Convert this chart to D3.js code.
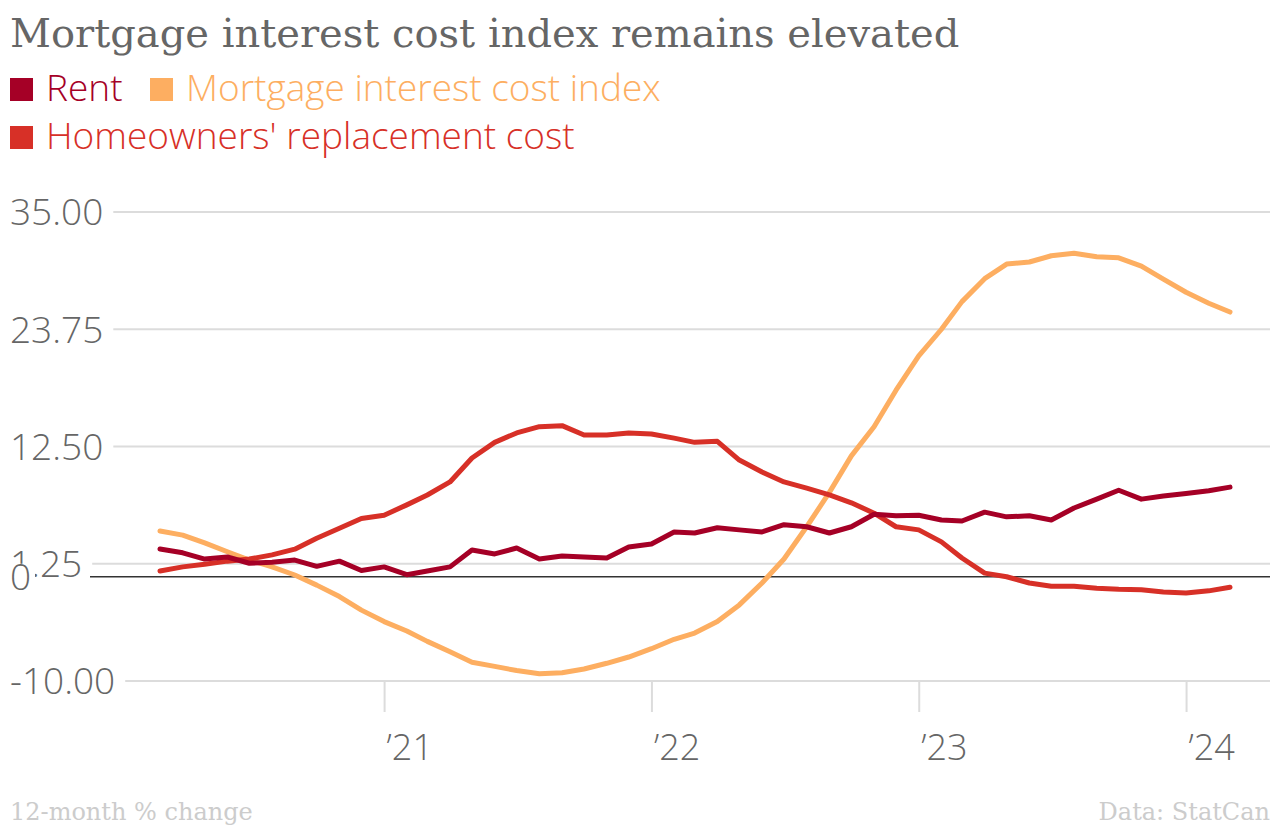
<!DOCTYPE html>
<html>
<head>
<meta charset="utf-8">
<script src="https://cdn.jsdelivr.net/npm/d3@7"></script>
<style>
  html, body { margin: 0; padding: 0; background: #fff; }
  svg { display: block; }
</style>
</head>
<body>
<svg id="chart" width="1280" height="826"></svg>
<script>
// ---- data (12-month % change, monthly Mar 2020 – Mar 2024) ----
const startMonth = "2020-03";
const endMonth = "2024-03";
const seriesNames = ["Rent", "Mortgage interest cost index", "Homeowners' replacement cost"];
const seriesColors = ["#a50026", "#fdae61", "#d73027"];
const rent = [2.67,2.3,1.7,1.9,1.3,1.4,1.6,1.0,1.5,0.6,0.95,0.2,0.55,0.95,2.57,2.19,2.76,1.7,2.0,1.9,1.8,2.86,3.15,4.3,4.2,4.7,4.5,4.3,5.0,4.8,4.2,4.8,6.0,5.85,5.9,5.45,5.35,6.2,5.75,5.85,5.45,6.6,7.45,8.3,7.45,7.75,8.0,8.25,8.6];
const mortgage = [4.4,4.0,3.25,2.4,1.6,0.95,0.17,-0.8,-1.9,-3.2,-4.3,-5.2,-6.2,-7.2,-8.2,-8.6,-9.0,-9.3,-9.2,-8.85,-8.3,-7.7,-6.9,-6.0,-5.4,-4.3,-2.7,-0.6,1.7,4.8,8.1,11.6,14.4,17.9,21.2,23.75,26.4,28.6,30.0,30.2,30.8,31.05,30.7,30.6,29.8,28.55,27.3,26.25,25.4];
const homeowners = [0.55,0.95,1.2,1.5,1.7,2.1,2.65,3.7,4.65,5.6,5.9,6.9,7.85,9.1,11.4,12.9,13.8,14.4,14.5,13.6,13.6,13.8,13.7,13.3,12.9,13.0,11.2,10.05,9.1,8.5,7.85,7.1,6.1,4.8,4.5,3.35,1.8,0.35,0.0,-0.6,-0.9,-0.9,-1.1,-1.2,-1.25,-1.45,-1.55,-1.35,-1.0];
const yTicks = [35, 23.75, 12.5, 1.25, -10];
const yTickLabels = ["35.00", "23.75", "12.50", "1.25", "-10.00"];
const xTickDates = ["2021-01", "2022-01", "2023-01", "2024-01"];
const xTickLabels = ["\u201921", "\u201922", "\u201923", "\u201924"];
const titleText = "Mortgage interest cost index remains elevated";
const noteText = "12-month % change";
const sourceText = "Data: StatCan";

// ---- setup ----
const parseM = d3.timeParse("%Y-%m");
const start = parseM(startMonth), end = parseM(endMonth);
const months = d3.timeMonth.range(start, d3.timeMonth.offset(end, 1));
const svg = d3.select("#chart");

const x = d3.scaleTime().domain([start, end]).range([160, 1230]);
const y = d3.scaleLinear().domain([-10, 35]).range([681, 212]);

const gray = "#666";
const sans = "'Open Sans', sans-serif";
const serif = "'DejaVu Serif', serif";

// title
svg.append("text").attr("x", 10).attr("y", 47)
  .attr("font-family", serif).attr("font-size", 40).attr("fill", gray)
  .text(titleText);

// legend
const legendPos = [[10, 101], [150, 101], [10, 149]];
seriesNames.forEach((n, i) => {
  const g = svg.append("g").attr("transform", `translate(${legendPos[i][0]},${legendPos[i][1]})`);
  g.append("rect").attr("x", 0).attr("y", -23).attr("width", 23).attr("height", 23).attr("fill", seriesColors[i]);
  g.append("text").attr("x", 36).attr("y", 0)
    .attr("font-family", sans).attr("font-weight", 300).attr("font-size", 37)
    .attr("fill", seriesColors[i]).text(n);
});

// y grid + labels
const yg = svg.append("g");
yTicks.forEach((t, i) => {
  const lbl = yg.append("text").attr("x", 10).attr("y", y(t)).attr("dy", "0.36em")
    .attr("font-family", sans).attr("font-weight", 300).attr("font-size", 37)
    .attr("fill", gray).text(yTickLabels[i]);
  const w = lbl.node().getComputedTextLength();
  yg.insert("line", "text").attr("x1", 10 + w + 10).attr("x2", 1270)
    .attr("y1", y(t)).attr("y2", y(t)).attr("stroke", "#dcdcdc").attr("stroke-width", 2);
});

// x axis ticks
const xAxis = d3.axisBottom(x)
  .tickValues(xTickDates.map(parseM))
  .tickFormat((d, i) => xTickLabels[i])
  .tickSize(31).tickPadding(0);
const xg = svg.append("g").attr("transform", `translate(0,${y(-10)})`).call(xAxis);
xg.select(".domain").remove();
xg.selectAll(".tick line").attr("stroke", "#dcdcdc").attr("stroke-width", 2);
xg.selectAll(".tick text")
  .attr("font-family", sans).attr("font-weight", 300).attr("font-size", 36)
  .attr("fill", gray).attr("text-anchor", "start")
  .attr("x", 2).attr("y", 79).attr("dy", 0);

// zero line + label
const zl = svg.append("g");
zl.append("rect").attr("x", 8).attr("y", y(0) - 13).attr("width", 27).attr("height", 28).attr("fill", "#fff");
zl.append("text").attr("x", 10).attr("y", y(0)).attr("dy", "0.36em")
  .attr("font-family", sans).attr("font-weight", 300).attr("font-size", 37)
  .attr("fill", gray).text("0");
zl.append("line").attr("x1", 90).attr("x2", 1270).attr("y1", y(0)).attr("y2", y(0))
  .attr("stroke", "#333").attr("stroke-width", 1.5);

// lines
const line = d3.line().x((d, i) => x(months[i])).y(d => y(d));
const allSeries = [rent, mortgage, homeowners];
const order = [1, 2, 0];
order.forEach(si => {
  svg.append("path").datum(allSeries[si])
    .attr("d", line).attr("fill", "none")
    .attr("stroke", seriesColors[si]).attr("stroke-width", 5)
    .attr("stroke-linejoin", "round").attr("stroke-linecap", "round");
});

// footer
svg.append("text").attr("x", 10).attr("y", 820)
  .attr("font-family", serif).attr("font-size", 24).attr("fill", "#ccc").text(noteText);
svg.append("text").attr("x", 1270).attr("y", 820).attr("text-anchor", "end")
  .attr("font-family", serif).attr("font-size", 24).attr("fill", "#ccc").text(sourceText);
</script>
</body>
</html>
